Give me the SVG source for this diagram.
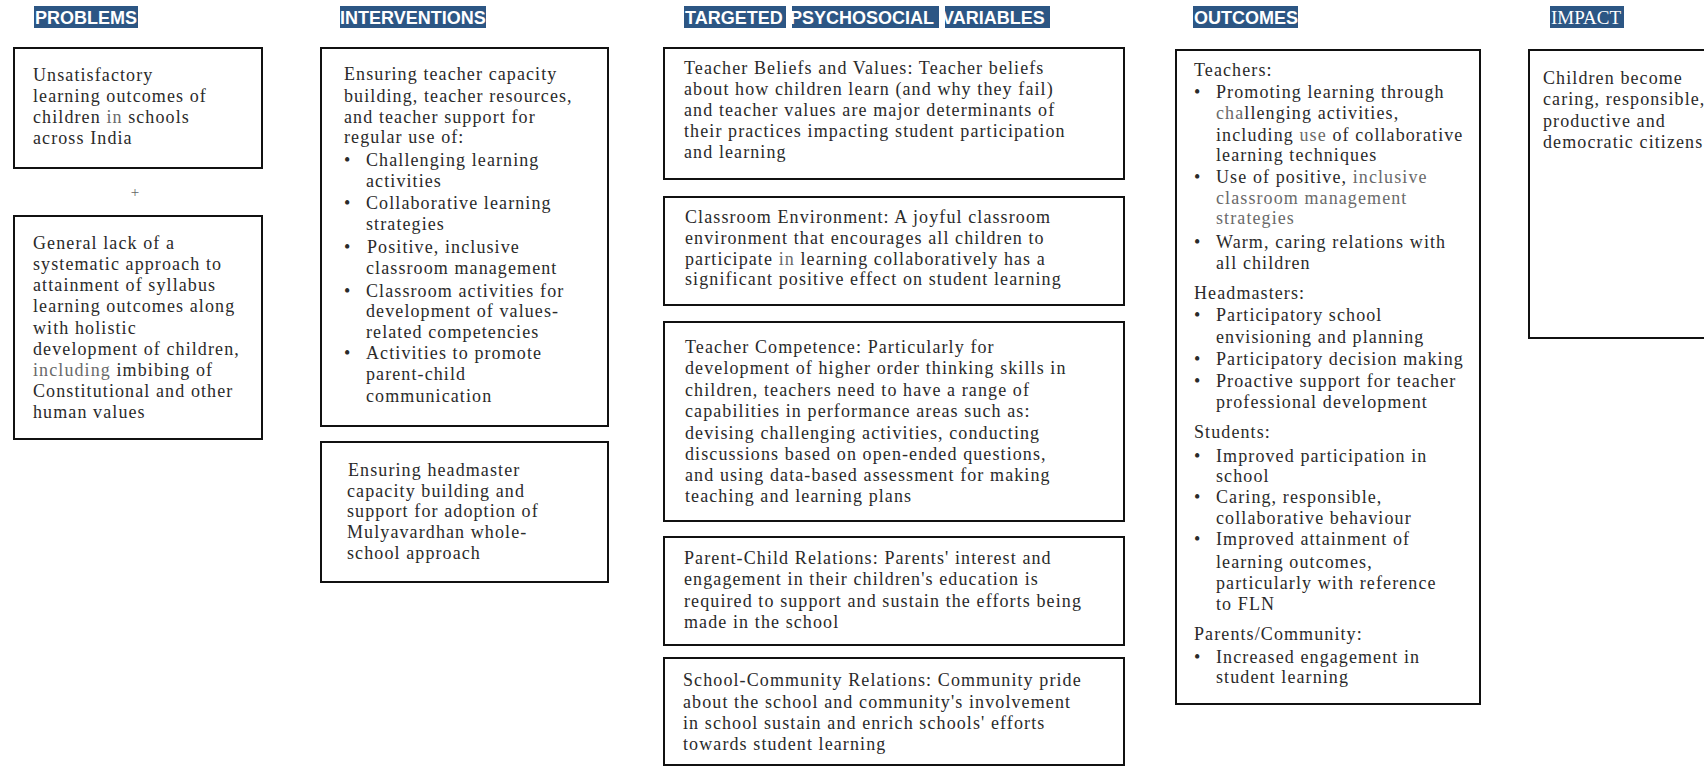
<svg xmlns="http://www.w3.org/2000/svg" width="1704" height="766" viewBox="0 0 1704 766">
<style>
.bg{fill:#ffffff}
.hdr{fill:#2c5684}
.ht{font-family:"Liberation Sans",Arial,sans-serif;font-weight:bold;font-size:18px;fill:#ffffff}
.hts{font-family:"Liberation Serif","Times New Roman",serif;font-size:19px;fill:#ffffff}
.box{fill:none;stroke:#111111;stroke-width:2}
.t{font-family:"Liberation Serif","Times New Roman",serif;font-size:18px;letter-spacing:1.1px;fill:#2a2a2a}
.g{fill:#6a6a6a}
.plus{font-family:"Liberation Serif","Times New Roman",serif;font-size:15px;fill:#666666}
</style>
<rect class="bg" x="0" y="0" width="1704" height="766"/>

<g id="headers">
  <rect class="hdr" x="34" y="6" width="104" height="22"/>
  <text class="ht" x="35" y="24">PROBLEMS</text>
  <rect class="hdr" x="340" y="6" width="146" height="22"/>
  <text class="ht" x="340" y="24">INTERVENTIONS</text>
  <rect class="hdr" x="684" y="6" width="102" height="22"/>
  <rect class="hdr" x="792" y="6" width="147" height="22"/>
  <rect class="hdr" x="945" y="6" width="105" height="22"/>
  <text class="ht" x="685" y="24">TARGETED</text>
  <text class="ht" x="790" y="24">PSYCHOSOCIAL</text>
  <text class="ht" x="942" y="24">VARIABLES</text>
  <rect class="hdr" x="1193" y="6" width="105" height="22"/>
  <text class="ht" x="1194" y="24">OUTCOMES</text>
  <rect class="hdr" x="1550" y="6" width="74" height="22"/>
  <text class="hts" x="1551" y="24">IMPACT</text>
</g>

<g id="problem1">
  <rect class="box" x="14" y="48" width="248" height="120"/>
  <text class="t"><tspan x="33" y="81">Unsatisfactory</tspan><tspan x="33" y="102">learning outcomes of</tspan><tspan x="33" y="123">children <tspan class="g">in</tspan> schools</tspan><tspan x="33" y="144">across India</tspan></text>
</g>

<g id="plus">
  <text class="plus" x="135" y="197" text-anchor="middle">+</text>
</g>

<g id="problem2">
  <rect class="box" x="14" y="216" width="248" height="223"/>
  <text class="t"><tspan x="33" y="249">General lack of a</tspan><tspan x="33" y="270">systematic approach to</tspan><tspan x="33" y="291">attainment of syllabus</tspan><tspan x="33" y="312">learning outcomes along</tspan><tspan x="33" y="334">with holistic</tspan><tspan x="33" y="355">development of children,</tspan><tspan x="33" y="376"><tspan class="g">including</tspan> imbibing of</tspan><tspan x="33" y="397">Constitutional and other</tspan><tspan x="33" y="418">human values</tspan></text>
</g>

<g id="intervention1">
  <rect class="box" x="321" y="48" width="287" height="378"/>
  <text class="t"><tspan x="344" y="80">Ensuring teacher capacity</tspan><tspan x="344" y="102">building, teacher resources,</tspan><tspan x="344" y="123">and teacher support for</tspan><tspan x="344" y="143">regular use of:</tspan></text>
  <text class="t"><tspan x="344" y="166">•</tspan><tspan x="344" y="209">•</tspan><tspan x="344" y="253">•</tspan><tspan x="344" y="297">•</tspan><tspan x="344" y="359">•</tspan></text>
  <text class="t"><tspan x="366" y="166">Challenging learning</tspan><tspan x="366" y="187">activities</tspan><tspan x="366" y="209">Collaborative learning</tspan><tspan x="366" y="230">strategies</tspan><tspan x="367" y="253">Positive, inclusive</tspan><tspan x="366" y="274">classroom  management</tspan><tspan x="366" y="297">Classroom activities for</tspan><tspan x="366" y="317">development of values-</tspan><tspan x="366" y="338">related competencies</tspan><tspan x="366" y="359">Activities to promote</tspan><tspan x="366" y="380">parent-child</tspan><tspan x="366" y="402">communication</tspan></text>
</g>

<g id="intervention2">
  <rect class="box" x="321" y="442" width="287" height="140"/>
  <text class="t"><tspan x="348" y="476">Ensuring headmaster</tspan><tspan x="347" y="497">capacity building and</tspan><tspan x="347" y="517">support for adoption of</tspan><tspan x="347" y="538">Mulyavardhan whole-</tspan><tspan x="347" y="559">school approach</tspan></text>
</g>

<g id="var-beliefs">
  <rect class="box" x="664" y="48" width="460" height="131"/>
  <text class="t"><tspan x="684" y="74">Teacher Beliefs and Values: Teacher beliefs</tspan><tspan x="684" y="95">about how children learn (and why they fail)</tspan><tspan x="684" y="116">and teacher values are major determinants of</tspan><tspan x="684" y="137">their practices impacting student participation</tspan><tspan x="684" y="158">and learning</tspan></text>
</g>

<g id="var-environment">
  <rect class="box" x="664" y="197" width="460" height="108"/>
  <text class="t"><tspan x="685" y="223">Classroom Environment: A joyful  classroom</tspan><tspan x="685" y="244">environment that encourages all  children  to</tspan><tspan x="685" y="265">participate <tspan class="g">in</tspan> learning collaboratively has a</tspan><tspan x="685" y="285">significant  positive effect  on  student  learning</tspan></text>
</g>

<g id="var-competence">
  <rect class="box" x="664" y="322" width="460" height="199"/>
  <text class="t"><tspan x="685" y="353">Teacher Competence: Particularly for</tspan><tspan x="685" y="374">development of higher order thinking skills in</tspan><tspan x="685" y="396">children, teachers need to have a range of</tspan><tspan x="685" y="417">capabilities in performance  areas such as:</tspan><tspan x="685" y="439">devising challenging activities, conducting</tspan><tspan x="685" y="460">discussions based on open-ended questions,</tspan><tspan x="685" y="481">and using data-based assessment for making</tspan><tspan x="685" y="502">teaching and learning plans</tspan></text>
</g>

<g id="var-parent-child">
  <rect class="box" x="664" y="537" width="460" height="108"/>
  <text class="t"><tspan x="684" y="564">Parent-Child Relations: Parents' interest and</tspan><tspan x="684" y="585">engagement in their children's education is</tspan><tspan x="684" y="607">required to support and sustain the efforts being</tspan><tspan x="684" y="628">made in the  school</tspan></text>
</g>

<g id="var-school-community">
  <rect class="box" x="664" y="658" width="460" height="107"/>
  <text class="t"><tspan x="683" y="686">School-Community Relations: Community  pride</tspan><tspan x="683" y="708">about the  school and  community's involvement</tspan><tspan x="683" y="729">in school sustain and enrich schools'  efforts</tspan><tspan x="683" y="750">towards student learning</tspan></text>
</g>

<g id="outcomes">
  <rect class="box" x="1176" y="50" width="304" height="654"/>
  <text class="t"><tspan x="1194" y="76">Teachers:</tspan><tspan x="1194" y="299">Headmasters:</tspan><tspan x="1194" y="438">Students:</tspan><tspan x="1194" y="640">Parents/Community:</tspan></text>
  <text class="t"><tspan x="1194" y="98">•</tspan><tspan x="1194" y="183">•</tspan><tspan x="1194" y="248">•</tspan><tspan x="1194" y="321">•</tspan><tspan x="1194" y="365">•</tspan><tspan x="1194" y="387">•</tspan><tspan x="1194" y="462">•</tspan><tspan x="1194" y="503">•</tspan><tspan x="1194" y="545">•</tspan><tspan x="1194" y="663">•</tspan></text>
  <text class="t"><tspan x="1216" y="98">Promoting learning through</tspan><tspan x="1216" y="119"><tspan class="g">cha</tspan>llenging activities,</tspan><tspan x="1216" y="141">including <tspan class="g">use</tspan> of collaborative</tspan><tspan x="1216" y="161">learning techniques</tspan><tspan x="1216" y="183">Use of positive, <tspan class="g">inclusive</tspan></tspan><tspan x="1216" y="204" class="g">classroom management</tspan><tspan x="1216" y="224" class="g">strategies</tspan><tspan x="1216" y="248">Warm, caring relations with</tspan><tspan x="1216" y="269">all children</tspan><tspan x="1216" y="321">Participatory school</tspan><tspan x="1216" y="343">envisioning and planning</tspan><tspan x="1216" y="365">Participatory  decision  making</tspan><tspan x="1216" y="387">Proactive support for teacher</tspan><tspan x="1216" y="408">professional development</tspan><tspan x="1216" y="462">Improved participation in</tspan><tspan x="1216" y="482">school</tspan><tspan x="1216" y="503">Caring, responsible,</tspan><tspan x="1216" y="524">collaborative behaviour</tspan><tspan x="1216" y="545">Improved attainment of</tspan><tspan x="1216" y="568">learning outcomes,</tspan><tspan x="1216" y="589">particularly with reference</tspan><tspan x="1216" y="610">to FLN</tspan><tspan x="1216" y="663">Increased engagement in</tspan><tspan x="1216" y="683">student learning</tspan></text>
</g>

<g id="impact">
  <rect class="box" x="1529" y="50" width="200" height="288"/>
  <text class="t"><tspan x="1543" y="84">Children become</tspan><tspan x="1543" y="105">caring, responsible,</tspan><tspan x="1543" y="127">productive and</tspan><tspan x="1543" y="148">democratic citizens</tspan></text>
</g>

<g id="connectors"></g>
</svg>
